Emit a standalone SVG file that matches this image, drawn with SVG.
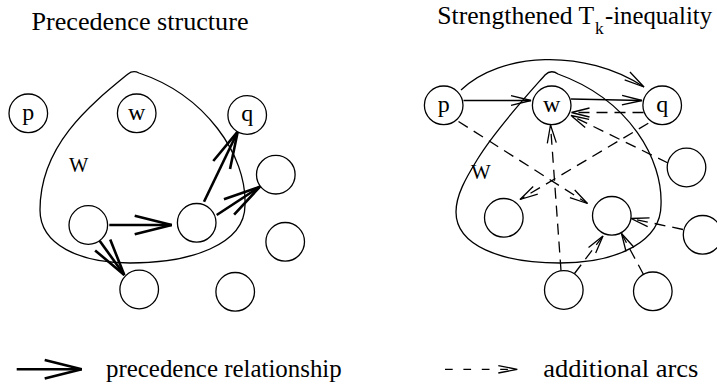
<svg xmlns="http://www.w3.org/2000/svg" width="717" height="386" viewBox="0 0 717 386">
<defs>
<style>
.bg{fill:#ffffff}
.n{fill:#ffffff;stroke:#000;stroke-width:1.3}
.blob{fill:none;stroke:#000;stroke-width:1.3}
.t{font-family:"Liberation Serif","Times New Roman",serif;fill:#000}
.lbl{font-family:"Liberation Serif","Times New Roman",serif;font-size:24px;text-anchor:middle;fill:#000}
.thick{fill:none;stroke:#000;stroke-width:2.6;marker-end:url(#hThick)}
.thin{fill:none;stroke:#000;stroke-width:1.3;marker-end:url(#hThin)}
.dash{fill:none;stroke:#000;stroke-width:1.3;stroke-dasharray:11 7;marker-end:url(#hDash)}
.ldash{fill:none;stroke:#000;stroke-width:1.3;stroke-dasharray:7.7 10.7;marker-end:url(#hLeg)}
</style>
<marker id="hThick" markerUnits="userSpaceOnUse" viewBox="-40 -12 42 24" refX="0" refY="0" markerWidth="42" markerHeight="24" orient="auto" overflow="visible">
<path d="M-37,-9.3 L0,0 L-37,9.3" fill="none" stroke="#000" stroke-width="2.6" stroke-dasharray="none"/>
</marker>
<marker id="hThin" markerUnits="userSpaceOnUse" viewBox="-22 -7 24 14" refX="0" refY="0" markerWidth="24" markerHeight="14" orient="auto" overflow="visible">
<path d="M-20,-4.8 L0,0 L-20,4.8" fill="none" stroke="#000" stroke-width="1.3" stroke-dasharray="none"/>
</marker>
<marker id="hDash" markerUnits="userSpaceOnUse" viewBox="-20 -7 22 14" refX="0" refY="0" markerWidth="22" markerHeight="14" orient="auto" overflow="visible">
<path d="M-18,-4.5 L0,0 L-18,4.5" fill="none" stroke="#000" stroke-width="1.3" stroke-dasharray="none"/>
</marker>
<marker id="hLeg" markerUnits="userSpaceOnUse" viewBox="-21 -6 23 12" refX="0" refY="0" markerWidth="23" markerHeight="12" orient="auto" overflow="visible">
<path d="M-19,-3.7 L0,0 L-19,3.7" fill="none" stroke="#000" stroke-width="1.3" stroke-dasharray="none"/>
</marker>
</defs>
<rect class="bg" x="0" y="0" width="717" height="386"/>

<!-- titles -->
<g id="title-left">
<text class="t" x="31.5" y="30" font-size="25" textLength="217" lengthAdjust="spacingAndGlyphs">Precedence structure</text>
</g>
<g id="title-right">
<text class="t" x="437.3" y="24" font-size="25"><tspan textLength="157" lengthAdjust="spacingAndGlyphs">Strengthened T</tspan><tspan x="595" y="33.5" font-size="17.5">k</tspan><tspan x="605" y="24" textLength="107" lengthAdjust="spacingAndGlyphs">-inequality</tspan></text>
</g>

<!-- sets W -->
<g id="set-W-left">
<path class="blob" d="M128,74 C90,105 40,145 40,210 C40,245 80,263 130,263 C190,263 245,245 245,205 C247,155 205,95 139,73 Q133,70 128,74 Z"/>
<text class="t" x="69" y="171.7" font-size="20" textLength="19.3" lengthAdjust="spacingAndGlyphs">W</text>
</g>
<g id="set-W-right">
<path class="blob" d="M545,75 C530,92 495,130 477,160 C466,178 456,195 456,212 C456,245 500,263 560,263 C620,263 661,240 661,205 C663,160 630,100 558,74 Q551,69 545,75 Z"/>
<text class="t" x="471" y="179" font-size="20" textLength="19.7" lengthAdjust="spacingAndGlyphs">W</text>
</g>

<!-- connectors -->
<g id="connectors">
<!-- left panel: precedence relationships -->
<line class="thick" x1="109.3" y1="225" x2="171.7" y2="225"/>
<line class="thick" x1="99.6" y1="240.7" x2="124.3" y2="275"/>
<line class="thick" x1="204" y1="201.7" x2="237.7" y2="131.7"/>
<line class="thick" x1="216.7" y1="215" x2="260" y2="186.7"/>
<!-- right panel: solid arcs -->
<path class="thin" d="M461,90 C500,52 585,48 644,87"/>
<line class="thin" x1="463.5" y1="100.5" x2="531" y2="100.5"/>
<line class="thin" x1="571" y1="99" x2="642" y2="100.5"/>
<!-- right panel: additional arcs -->
<line class="dash" x1="643.5" y1="112.5" x2="571.5" y2="112.5"/>
<line class="dash" x1="668" y1="163" x2="571" y2="115.5"/>
<line class="dash" x1="458.5" y1="121.5" x2="587.5" y2="203.5"/>
<line class="dash" x1="648.3" y1="123.3" x2="520" y2="199.5"/>
<line class="dash" x1="561" y1="270.5" x2="550.5" y2="125"/>
<line class="dash" x1="683" y1="229.5" x2="631" y2="218.5"/>
<line class="dash" x1="574.5" y1="273.5" x2="603" y2="236"/>
<line class="dash" x1="643.5" y1="274.5" x2="621.5" y2="233.5"/>
</g>

<!-- left panel nodes -->
<g id="L-p"><circle class="n" cx="28.3" cy="113.3" r="19.3"/><text class="lbl" x="28.3" y="119.5">p</text></g>
<g id="L-w"><circle class="n" cx="136.7" cy="113.3" r="19.3"/><text class="lbl" x="136.7" y="119.5">w</text></g>
<g id="L-q"><circle class="n" cx="247.2" cy="115" r="19.3"/><text class="lbl" x="247.2" y="121.2">q</text></g>
<g id="L-n1"><circle class="n" cx="275.8" cy="174.7" r="19.3"/></g>
<g id="L-n2"><circle class="n" cx="88.3" cy="225" r="19.3"/></g>
<g id="L-n3"><circle class="n" cx="196.7" cy="222.8" r="19.3"/></g>
<g id="L-n4"><circle class="n" cx="285.2" cy="241.8" r="19.3"/></g>
<g id="L-n5"><circle class="n" cx="139.2" cy="289.5" r="19.3"/></g>
<g id="L-n6"><circle class="n" cx="235.2" cy="291.8" r="19.3"/></g>

<!-- right panel nodes -->
<g id="R-p"><circle class="n" cx="443.7" cy="105.3" r="19.3"/><text class="lbl" x="443.7" y="111.5">p</text></g>
<g id="R-w"><circle class="n" cx="551.7" cy="105.3" r="19.3"/><text class="lbl" x="551.7" y="111.5">w</text></g>
<g id="R-q"><circle class="n" cx="662.2" cy="105.3" r="19.3"/><text class="lbl" x="662.2" y="111.5">q</text></g>
<g id="R-n1"><circle class="n" cx="686.5" cy="167.5" r="19.3"/></g>
<g id="R-n2"><circle class="n" cx="503.8" cy="217.8" r="19.3"/></g>
<g id="R-n3"><circle class="n" cx="611.8" cy="215.8" r="19.3"/></g>
<g id="R-n4"><circle class="n" cx="702.6" cy="234.8" r="19.3"/></g>
<g id="R-n5"><circle class="n" cx="563.8" cy="290" r="19.3"/></g>
<g id="R-n6"><circle class="n" cx="652.8" cy="291.3" r="19.3"/></g>

<!-- legend -->
<g id="legend-precedence">
<line class="thick" x1="16.7" y1="369.3" x2="81.7" y2="369.3"/>
<text class="t" x="106" y="376.5" font-size="25" textLength="235.7" lengthAdjust="spacingAndGlyphs">precedence relationship</text>
</g>
<g id="legend-additional">
<line class="ldash" x1="445" y1="369.3" x2="517.3" y2="369.3"/>
<text class="t" x="543.3" y="376.5" font-size="25" textLength="155" lengthAdjust="spacingAndGlyphs">additional arcs</text>
</g>
</svg>
